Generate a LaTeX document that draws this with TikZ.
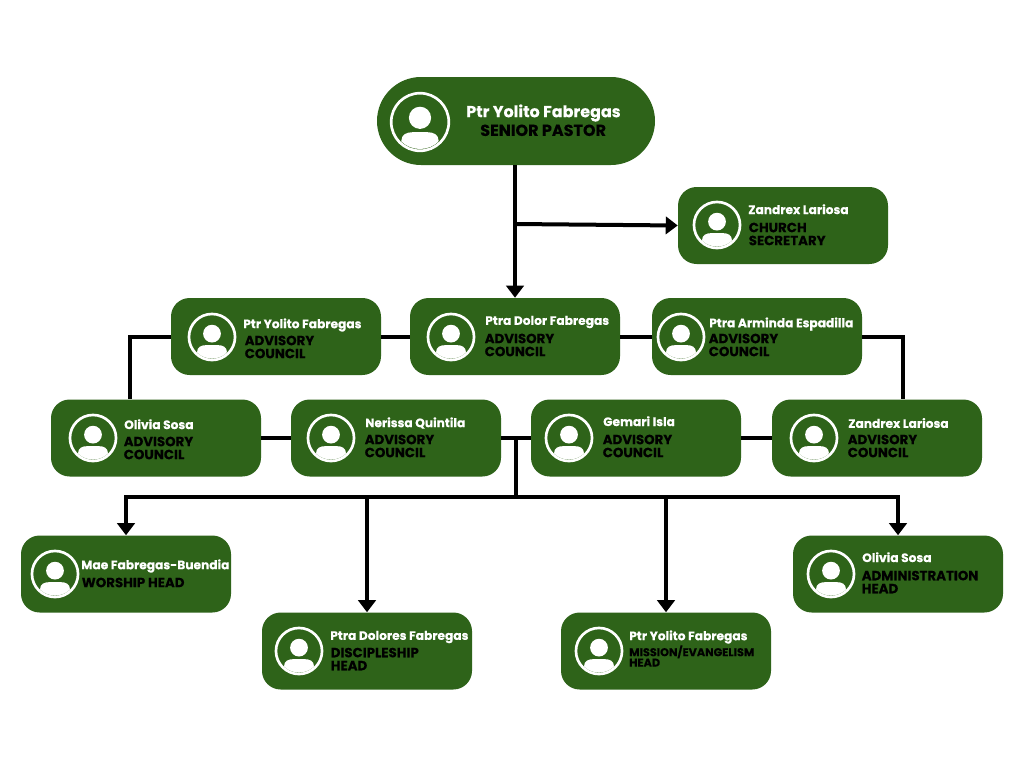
\documentclass[tikz,border=0pt]{standalone}
\usepackage{fontspec}
\setmainfont{Poppins}[BoldFont=* Bold]
\usetikzlibrary{arrows.meta}
\definecolor{cardgreen}{HTML}{2E6319}
\newfontface\namefont{Poppins Bold}[FakeBold=0.25]
\newfontface\rolefont{Poppins Bold}[FakeBold=0.15]
\tikzset{
  x=0.75pt,y=-0.75pt,
  card/.style={draw=none,fill=cardgreen,rounded corners=14pt,minimum width=157.5pt,minimum height=57.75pt,inner sep=0pt},
  topcard/.style={card,rounded corners=33pt,minimum width=208.5pt,minimum height=66pt},
  nametxt/.style={anchor=west,inner sep=0pt,text=white,font=\namefont\fontsize{9.15}{10}\selectfont},
  roletxt/.style={anchor=west,inner sep=0pt,text=black,align=left,font=\rolefont\fontsize{10}{9.75}\selectfont},
  link/.style={draw=black,line width=3pt},
  arrowlink/.style={link,-{Triangle[width=13pt,length=9pt]}},
  person/.pic={
    \draw[white,line width=2pt] (0,0) circle (1-.04);
    \fill[white] (0,-.14) circle (.37);
    \begin{scope}
      \clip (0,0) circle (.9);
      \fill[white] (-.62,1.1) -- (-.62,.62) .. controls (-.62,.42) and (-.45,.34) .. (-.25,.34)
        -- (.25,.34) .. controls (.45,.34) and (.62,.42) .. (.62,.62) -- (.62,1.1) -- cycle;
    \end{scope}
  }
}
\begin{document}
\begin{tikzpicture}
\useasboundingbox (0,0) rectangle (1024,768);
\fill[white] (0,0) rectangle (1024,768);

\node[topcard] (top) at (516,121) {};
\node[card] (sec) at (783,225.5) {};
\node[card] (py) at (276,336.5) {};
\node[card] (pd) at (515,336.5) {};
\node[card] (pa) at (757,336.5) {};
\node[card] (os) at (156,438) {};
\node[card] (nq) at (396,438) {};
\node[card] (gi) at (636,438) {};
\node[card] (zl) at (877,438) {};
\node[card] (wh) at (126,574) {};
\node[card] (ah) at (898,574) {};
\node[card] (dh) at (367,651) {};
\node[card] (mh) at (666,651) {};

\coordinate (secjoin) at (515.5,224);
\coordinate (tap) at (515.5,437.5);
\coordinate (bus) at (515.5,497);
\coordinate (leftbend) at (130,336.5);
\coordinate (rightbend) at (903,336.5);

\draw[link] (py.east) -- (pd.west);
\draw[link] (pd.east) -- (pa.west);
\draw[link,line join=miter] (py.west) -- (leftbend) -- (leftbend |- os.north);
\draw[link,line join=miter] (pa.east) -- (rightbend) -- (rightbend |- zl.north);
\draw[link] (os.east) -- (nq.west);
\draw[link] (nq.east) -- (gi.west);
\draw[link] (gi.east) -- (zl.west);
\draw[link] (tap) -- (bus);
\draw[link] ([xshift=-1.5pt]wh.north |- bus) -- ([xshift=1.5pt]ah.north |- bus);
\draw[arrowlink] (top.south -| pd.north) -- (pd.north);
\draw[arrowlink] (secjoin) -- (sec.west);
\draw[arrowlink] (wh.north |- bus) -- (wh.north);
\draw[arrowlink] (dh.north |- bus) -- (dh.north);
\draw[arrowlink] (mh.north |- bus) -- (mh.north);
\draw[arrowlink] (ah.north |- bus) -- (ah.north);

\pic[scale=30] at (420,122) {person};
\pic[scale=24] at (717,225) {person};
\pic[scale=24] at (212,337) {person};
\pic[scale=24] at (451,337) {person};
\pic[scale=24] at (681,337) {person};
\pic[scale=24] at (93,438) {person};
\pic[scale=24] at (331,438) {person};
\pic[scale=24] at (569,438) {person};
\pic[scale=24] at (814,438) {person};
\pic[scale=24] at (55,574) {person};
\pic[scale=24] at (831,574) {person};
\pic[scale=24] at (299,651) {person};
\pic[scale=24] at (599,651) {person};

\node[nametxt,font=\namefont\fontsize{11.95}{12}\selectfont] (top-name) at (466,113) {Ptr Yolito Fabregas};
\node[roletxt,font=\rolefont\fontsize{12}{12}\selectfont] (top-role) at (480,130.3) {SENIOR PASTOR};
\node[nametxt] (sec-name) at (748,209.2) {Zandrex Lariosa};
\node[roletxt] (sec-role) at (748.5,234) {CHURCH\\SECRETARY};
\node[nametxt] (py-name) at (243,325) {Ptr Yolito Fabregas};
\node[roletxt] (py-role) at (244.5,347) {ADVISORY\\COUNCIL};
\node[nametxt] (pd-name) at (485,322) {Ptra Dolor Fabregas};
\node[roletxt] (pd-role) at (484.5,345) {ADVISORY\\COUNCIL};
\node[nametxt] (pa-name) at (709,324) {Ptra Arminda Espadilla};
\node[roletxt] (pa-role) at (708.5,345) {ADVISORY\\COUNCIL};
\node[nametxt] (os-name) at (124,424.2) {Olivia Sosa};
\node[roletxt] (os-role) at (123.5,448) {ADVISORY\\COUNCIL};
\node[nametxt] (nq-name) at (365,423) {Nerissa Quintila};
\node[roletxt] (nq-role) at (364.5,446) {ADVISORY\\COUNCIL};
\node[nametxt] (gi-name) at (603,421.2) {Gemari Isla};
\node[roletxt] (gi-role) at (602.5,446) {ADVISORY\\COUNCIL};
\node[nametxt] (zl-name) at (848,423) {Zandrex Lariosa};
\node[roletxt] (zl-role) at (847.5,446) {ADVISORY\\COUNCIL};
\node[nametxt] (wh-name) at (81,566) {Mae Fabregas-Buendia};
\node[roletxt] (wh-role) at (81.5,582.5) {WORSHIP HEAD};
\node[nametxt] (ah-name) at (862,557.2) {Olivia Sosa};
\node[roletxt] (ah-role) at (861.5,582) {ADMINISTRATION\\HEAD};
\node[nametxt] (dh-name) at (330,637) {Ptra Dolores Fabregas};
\node[roletxt] (dh-role) at (330.5,659) {DISCIPLESHIP\\HEAD};
\node[nametxt] (mh-name) at (629,637) {Ptr Yolito Fabregas};
\node[roletxt,font=\rolefont\fontsize{8.45}{7.8}\selectfont] (mh-role) at (629,656) {MISSION/EVANGELISM\\HEAD};
\end{tikzpicture}
\end{document}
